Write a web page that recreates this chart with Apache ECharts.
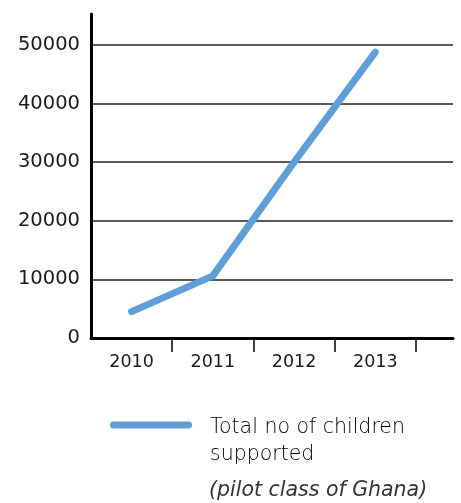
<!DOCTYPE html>
<html><head><meta charset="utf-8">
<script src="https://cdn.jsdelivr.net/npm/echarts@6/dist/echarts.min.js"></script>
<style>html,body{margin:0;padding:0;background:#fff}#c{width:461px;height:503px}</style>
</head><body><div id="c"></div>
<script>
const categories = ['2010', '2011', '2012', '2013'];
const childrenSupported = [4500, 10600, 30000, 48800];
const yTicks = [0, 10000, 20000, 30000, 40000, 50000];
const seriesName = 'Total no of children\nsupported';
const noteText = '(pilot class of Ghana)';

const chart = echarts.init(document.getElementById('c'));
chart.setOption({
  animation: false,
  backgroundColor: '#fff',
  grid: { left: 91, right: 8, top: 14, bottom: 165 },
  xAxis: {
    type: 'value', min: 0, max: 4.457, interval: 1,
    axisLine: { show: true, lineStyle: { color: '#000', width: 3 } },
    axisTick: { show: true, length: 14, customValues: [1, 2, 3, 4], lineStyle: { color: '#000', width: 1.5 } },
    axisLabel: {
      customValues: categories.map((c, i) => i + 0.5),
      formatter: v => categories[Math.round(v - 0.5)] || '',
      margin: 15, color: '#1a1a1a', fontSize: 17.5, fontFamily: 'DejaVu Sans'
    },
    splitLine: { show: false }
  },
  yAxis: {
    type: 'value', min: 0, max: 55300, interval: 10000,
    axisLine: { show: true, lineStyle: { color: '#000', width: 3 } },
    axisTick: { show: false },
    axisLabel: {
      customValues: yTicks,
      formatter: v => String(v),
      margin: 11, color: '#1a1a1a', fontSize: 19.5, fontFamily: 'DejaVu Sans'
    },
    splitLine: { show: true, showMaxLine: false, lineStyle: { color: '#222', width: 1.5 } }
  },
  legend: {
    left: 110, top: 393, padding: 0,
    itemWidth: 82, itemHeight: 7, itemGap: 18,
    icon: 'path://M3.5,0 H78.5 A3.5,3.5 0 0 1 78.5,7 H3.5 A3.5,3.5 0 0 1 3.5,0 Z',
    formatter: name => '{e|}\n' + name.split('\n').map(s => '{a|' + s + '}').join('\n'),
    textStyle: {
      rich: {
        e: { fontSize: 10, lineHeight: 33 },
        a: { color: '#000', fontSize: 20.5, fontFamily: 'DejaVu Sans', fontWeight: 200, lineHeight: 27, padding: [0, 0, 0, 13] }
      }
    },
    data: [seriesName]
  },
  title: {
    text: noteText, left: 209, top: 481, padding: 0,
    textStyle: { color: '#333', fontSize: 20.5, fontFamily: 'DejaVu Sans', fontWeight: 'normal', fontStyle: 'italic' }
  },
  series: [{
    name: seriesName, type: 'line',
    data: childrenSupported.map((v, i) => [i + 0.5, v]),
    symbol: 'none',
    lineStyle: { color: '#5d9fd6', width: 7, cap: 'round', join: 'round' },
    itemStyle: { color: '#5d9fd6' }
  }]
});
</script></body></html>
